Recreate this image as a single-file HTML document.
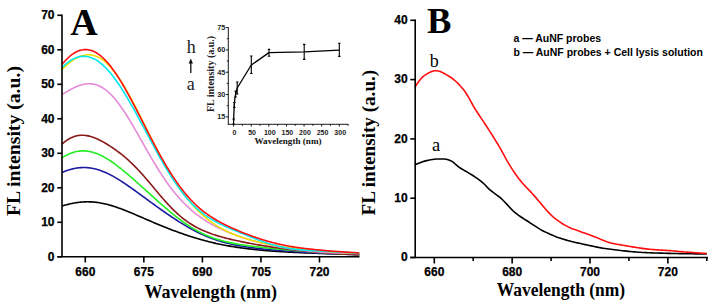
<!DOCTYPE html>
<html><head><meta charset="utf-8"><style>
html,body{margin:0;padding:0;background:#fff;width:717px;height:308px;overflow:hidden}
svg{display:block}
.s{font-family:"Liberation Sans",sans-serif;font-weight:bold;stroke:#000;stroke-width:0.25}
.t{font-family:"Liberation Serif",serif;font-weight:bold}
.r{font-family:"Liberation Serif",serif}
</style></head><body>
<svg width="717" height="308" viewBox="0 0 717 308">
<rect width="717" height="308" fill="#fff"/>

<path d="M61.88,206.05 L63.13,205.68 L64.37,205.33 L65.62,204.99 L66.86,204.67 L68.10,204.35 L69.35,204.06 L70.59,203.78 L71.84,203.51 L73.08,203.27 L74.33,203.04 L75.57,202.83 L76.81,202.63 L78.06,202.46 L79.30,202.31 L80.55,202.17 L81.79,202.06 L83.04,201.97 L84.28,201.90 L85.53,201.85 L86.77,201.82 L88.01,201.81 L89.26,201.83 L90.50,201.87 L91.75,201.92 L92.99,202.01 L94.24,202.11 L95.48,202.23 L96.72,202.38 L97.97,202.54 L99.21,202.73 L100.46,202.94 L101.70,203.17 L102.95,203.41 L104.19,203.68 L105.44,203.96 L106.68,204.27 L107.92,204.59 L109.17,204.92 L110.41,205.28 L111.66,205.64 L112.90,206.02 L114.15,206.42 L115.39,206.83 L116.64,207.25 L117.88,207.69 L119.12,208.13 L120.37,208.59 L121.61,209.05 L122.86,209.53 L124.10,210.01 L125.35,210.50 L126.59,211.00 L127.83,211.50 L129.08,212.01 L130.32,212.53 L131.57,213.05 L132.81,213.57 L134.06,214.10 L135.30,214.63 L136.55,215.16 L137.79,215.69 L139.03,216.23 L140.28,216.77 L141.52,217.30 L142.77,217.84 L144.01,218.38 L145.26,218.92 L146.50,219.46 L147.74,219.99 L148.99,220.53 L150.23,221.06 L151.48,221.59 L152.72,222.12 L153.97,222.65 L155.21,223.17 L156.46,223.70 L157.70,224.22 L158.94,224.73 L160.19,225.25 L161.43,225.76 L162.68,226.26 L163.92,226.77 L165.17,227.27 L166.41,227.76 L167.65,228.25 L168.90,228.74 L170.14,229.22 L171.39,229.70 L172.63,230.18 L173.88,230.65 L175.12,231.11 L176.37,231.57 L177.61,232.03 L178.85,232.48 L180.10,232.92 L181.34,233.37 L182.59,233.80 L183.83,234.23 L185.08,234.66 L186.32,235.08 L187.57,235.49 L188.81,235.90 L190.05,236.30 L191.30,236.70 L192.54,237.09 L193.79,237.48 L195.03,237.86 L196.28,238.23 L197.52,238.60 L198.76,238.96 L200.01,239.32 L201.25,239.67 L202.50,240.01 L203.74,240.35 L204.99,240.69 L206.23,241.01 L207.48,241.33 L208.72,241.65 L209.96,241.96 L211.21,242.26 L212.45,242.56 L213.70,242.85 L214.94,243.14 L216.19,243.42 L217.43,243.69 L218.67,243.96 L219.92,244.22 L221.16,244.48 L222.41,244.73 L223.65,244.98 L224.90,245.22 L226.14,245.46 L227.39,245.69 L228.63,245.91 L229.87,246.13 L231.12,246.35 L232.36,246.56 L233.61,246.76 L234.85,246.96 L236.10,247.15 L237.34,247.34 L238.59,247.53 L239.83,247.71 L241.07,247.89 L242.32,248.06 L243.56,248.23 L244.81,248.39 L246.05,248.55 L247.30,248.70 L248.54,248.86 L249.78,249.00 L251.03,249.15 L252.27,249.29 L253.52,249.42 L254.76,249.56 L256.01,249.69 L257.25,249.81 L258.50,249.93 L259.74,250.05 L260.98,250.17 L262.23,250.28 L263.47,250.39 L264.72,250.50 L265.96,250.61 L267.21,250.71 L268.45,250.81 L269.69,250.90 L270.94,251.00 L272.18,251.09 L273.43,251.18 L274.67,251.27 L275.92,251.35 L277.16,251.43 L278.41,251.51 L279.65,251.59 L280.89,251.67 L282.14,251.74 L283.38,251.82 L284.63,251.89 L285.87,251.96 L287.12,252.03 L288.36,252.09 L289.60,252.16 L290.85,252.22 L292.09,252.28 L293.34,252.34 L294.58,252.40 L295.83,252.46 L297.07,252.52 L298.32,252.57 L299.56,252.63 L300.80,252.68 L302.05,252.73 L303.29,252.78 L304.54,252.83 L305.78,252.88 L307.03,252.93 L308.27,252.98 L309.52,253.03 L310.76,253.07 L312.00,253.12 L313.25,253.16 L314.49,253.20 L315.74,253.25 L316.98,253.29 L318.23,253.33 L319.47,253.37 L320.71,253.41 L321.96,253.45 L323.20,253.49 L324.45,253.52 L325.69,253.56 L326.94,253.60 L328.18,253.64 L329.43,253.67 L330.67,253.71 L331.91,253.74 L333.16,253.78 L334.40,253.81 L335.65,253.84 L336.89,253.88 L338.14,253.91 L339.38,253.94 L340.62,253.97 L341.87,254.01 L343.11,254.04 L344.36,254.07 L345.60,254.10 L346.85,254.13 L348.09,254.16 L349.34,254.19 L350.58,254.22 L351.82,254.25 L353.07,254.27 L354.31,254.30 L355.56,254.33 L356.80,254.36 L358.05,254.39 L359.29,254.41" stroke="#000000" stroke-width="1.6" fill="none"/>
<path d="M61.88,172.57 L63.13,172.05 L64.37,171.54 L65.62,171.07 L66.86,170.62 L68.10,170.19 L69.35,169.80 L70.59,169.44 L71.84,169.10 L73.08,168.80 L74.33,168.53 L75.57,168.29 L76.81,168.08 L78.06,167.91 L79.30,167.77 L80.55,167.66 L81.79,167.59 L83.04,167.54 L84.28,167.54 L85.53,167.57 L86.77,167.63 L88.01,167.72 L89.26,167.85 L90.50,168.02 L91.75,168.21 L92.99,168.44 L94.24,168.71 L95.48,169.00 L96.72,169.33 L97.97,169.69 L99.21,170.08 L100.46,170.49 L101.70,170.94 L102.95,171.42 L104.19,171.93 L105.44,172.46 L106.68,173.02 L107.92,173.60 L109.17,174.21 L110.41,174.84 L111.66,175.50 L112.90,176.17 L114.15,176.87 L115.39,177.58 L116.64,178.32 L117.88,179.07 L119.12,179.84 L120.37,180.62 L121.61,181.42 L122.86,182.24 L124.10,183.06 L125.35,183.90 L126.59,184.74 L127.83,185.60 L129.08,186.47 L130.32,187.34 L131.57,188.22 L132.81,189.11 L134.06,190.00 L135.30,190.90 L136.55,191.80 L137.79,192.70 L139.03,193.61 L140.28,194.52 L141.52,195.43 L142.77,196.34 L144.01,197.25 L145.26,198.17 L146.50,199.08 L147.74,199.99 L148.99,200.90 L150.23,201.81 L151.48,202.72 L152.72,203.62 L153.97,204.52 L155.21,205.42 L156.46,206.32 L157.70,207.21 L158.94,208.10 L160.19,208.98 L161.43,209.86 L162.68,210.74 L163.92,211.61 L165.17,212.48 L166.41,213.34 L167.65,214.19 L168.90,215.04 L170.14,215.88 L171.39,216.72 L172.63,217.55 L173.88,218.37 L175.12,219.19 L176.37,220.00 L177.61,220.80 L178.85,221.59 L180.10,222.37 L181.34,223.14 L182.59,223.91 L183.83,224.66 L185.08,225.40 L186.32,226.14 L187.57,226.86 L188.81,227.57 L190.05,228.27 L191.30,228.96 L192.54,229.63 L193.79,230.30 L195.03,230.95 L196.28,231.59 L197.52,232.21 L198.76,232.82 L200.01,233.42 L201.25,234.01 L202.50,234.58 L203.74,235.14 L204.99,235.68 L206.23,236.21 L207.48,236.73 L208.72,237.23 L209.96,237.72 L211.21,238.20 L212.45,238.66 L213.70,239.11 L214.94,239.54 L216.19,239.97 L217.43,240.37 L218.67,240.77 L219.92,241.15 L221.16,241.53 L222.41,241.89 L223.65,242.23 L224.90,242.57 L226.14,242.90 L227.39,243.21 L228.63,243.52 L229.87,243.81 L231.12,244.09 L232.36,244.37 L233.61,244.64 L234.85,244.89 L236.10,245.14 L237.34,245.38 L238.59,245.61 L239.83,245.84 L241.07,246.06 L242.32,246.27 L243.56,246.47 L244.81,246.67 L246.05,246.86 L247.30,247.05 L248.54,247.23 L249.78,247.40 L251.03,247.57 L252.27,247.74 L253.52,247.90 L254.76,248.05 L256.01,248.21 L257.25,248.36 L258.50,248.50 L259.74,248.64 L260.98,248.78 L262.23,248.91 L263.47,249.05 L264.72,249.18 L265.96,249.30 L267.21,249.43 L268.45,249.55 L269.69,249.67 L270.94,249.78 L272.18,249.90 L273.43,250.01 L274.67,250.12 L275.92,250.23 L277.16,250.33 L278.41,250.44 L279.65,250.54 L280.89,250.64 L282.14,250.74 L283.38,250.84 L284.63,250.93 L285.87,251.03 L287.12,251.12 L288.36,251.21 L289.60,251.31 L290.85,251.39 L292.09,251.48 L293.34,251.57 L294.58,251.66 L295.83,251.74 L297.07,251.82 L298.32,251.91 L299.56,251.99 L300.80,252.07 L302.05,252.14 L303.29,252.22 L304.54,252.30 L305.78,252.37 L307.03,252.45 L308.27,252.52 L309.52,252.60 L310.76,252.67 L312.00,252.74 L313.25,252.81 L314.49,252.88 L315.74,252.94 L316.98,253.01 L318.23,253.08 L319.47,253.14 L320.71,253.20 L321.96,253.27 L323.20,253.33 L324.45,253.39 L325.69,253.45 L326.94,253.51 L328.18,253.57 L329.43,253.63 L330.67,253.68 L331.91,253.74 L333.16,253.80 L334.40,253.85 L335.65,253.91 L336.89,253.96 L338.14,254.01 L339.38,254.06 L340.62,254.11 L341.87,254.16 L343.11,254.21 L344.36,254.26 L345.60,254.31 L346.85,254.36 L348.09,254.40 L349.34,254.45 L350.58,254.49 L351.82,254.54 L353.07,254.58 L354.31,254.62 L355.56,254.66 L356.80,254.71 L358.05,254.75 L359.29,254.79" stroke="#1a1aa0" stroke-width="1.6" fill="none"/>
<path d="M61.88,157.87 L63.13,157.09 L64.37,156.35 L65.62,155.66 L66.86,155.01 L68.10,154.41 L69.35,153.85 L70.59,153.34 L71.84,152.88 L73.08,152.46 L74.33,152.10 L75.57,151.78 L76.81,151.51 L78.06,151.29 L79.30,151.12 L80.55,150.99 L81.79,150.92 L83.04,150.89 L84.28,150.91 L85.53,150.98 L86.77,151.09 L88.01,151.25 L89.26,151.45 L90.50,151.70 L91.75,152.00 L92.99,152.33 L94.24,152.71 L95.48,153.13 L96.72,153.59 L97.97,154.09 L99.21,154.62 L100.46,155.19 L101.70,155.80 L102.95,156.44 L104.19,157.12 L105.44,157.82 L106.68,158.56 L107.92,159.32 L109.17,160.11 L110.41,160.93 L111.66,161.77 L112.90,162.63 L114.15,163.52 L115.39,164.43 L116.64,165.36 L117.88,166.31 L119.12,167.27 L120.37,168.25 L121.61,169.25 L122.86,170.26 L124.10,171.28 L125.35,172.31 L126.59,173.36 L127.83,174.41 L129.08,175.48 L130.32,176.55 L131.57,177.63 L132.81,178.72 L134.06,179.81 L135.30,180.91 L136.55,182.02 L137.79,183.13 L139.03,184.24 L140.28,185.35 L141.52,186.47 L142.77,187.59 L144.01,188.72 L145.26,189.84 L146.50,190.96 L147.74,192.09 L148.99,193.21 L150.23,194.34 L151.48,195.46 L152.72,196.58 L153.97,197.70 L155.21,198.81 L156.46,199.93 L157.70,201.03 L158.94,202.14 L160.19,203.24 L161.43,204.33 L162.68,205.42 L163.92,206.50 L165.17,207.58 L166.41,208.64 L167.65,209.70 L168.90,210.75 L170.14,211.79 L171.39,212.82 L172.63,213.84 L173.88,214.84 L175.12,215.84 L176.37,216.82 L177.61,217.78 L178.85,218.74 L180.10,219.67 L181.34,220.59 L182.59,221.50 L183.83,222.39 L185.08,223.26 L186.32,224.12 L187.57,224.95 L188.81,225.77 L190.05,226.57 L191.30,227.36 L192.54,228.12 L193.79,228.86 L195.03,229.59 L196.28,230.29 L197.52,230.97 L198.76,231.64 L200.01,232.28 L201.25,232.91 L202.50,233.52 L203.74,234.10 L204.99,234.67 L206.23,235.22 L207.48,235.75 L208.72,236.27 L209.96,236.76 L211.21,237.24 L212.45,237.70 L213.70,238.14 L214.94,238.57 L216.19,238.98 L217.43,239.38 L218.67,239.76 L219.92,240.13 L221.16,240.48 L222.41,240.82 L223.65,241.15 L224.90,241.47 L226.14,241.77 L227.39,242.06 L228.63,242.35 L229.87,242.62 L231.12,242.88 L232.36,243.13 L233.61,243.38 L234.85,243.61 L236.10,243.84 L237.34,244.06 L238.59,244.27 L239.83,244.48 L241.07,244.68 L242.32,244.87 L243.56,245.06 L244.81,245.25 L246.05,245.42 L247.30,245.60 L248.54,245.77 L249.78,245.93 L251.03,246.10 L252.27,246.25 L253.52,246.41 L254.76,246.56 L256.01,246.71 L257.25,246.86 L258.50,247.00 L259.74,247.14 L260.98,247.28 L262.23,247.42 L263.47,247.55 L264.72,247.69 L265.96,247.82 L267.21,247.95 L268.45,248.08 L269.69,248.20 L270.94,248.33 L272.18,248.45 L273.43,248.58 L274.67,248.70 L275.92,248.82 L277.16,248.94 L278.41,249.06 L279.65,249.17 L280.89,249.29 L282.14,249.40 L283.38,249.52 L284.63,249.63 L285.87,249.74 L287.12,249.85 L288.36,249.97 L289.60,250.07 L290.85,250.18 L292.09,250.29 L293.34,250.40 L294.58,250.50 L295.83,250.61 L297.07,250.71 L298.32,250.82 L299.56,250.92 L300.80,251.02 L302.05,251.12 L303.29,251.22 L304.54,251.32 L305.78,251.42 L307.03,251.51 L308.27,251.61 L309.52,251.70 L310.76,251.80 L312.00,251.89 L313.25,251.98 L314.49,252.07 L315.74,252.16 L316.98,252.25 L318.23,252.34 L319.47,252.43 L320.71,252.51 L321.96,252.60 L323.20,252.68 L324.45,252.76 L325.69,252.85 L326.94,252.93 L328.18,253.01 L329.43,253.09 L330.67,253.16 L331.91,253.24 L333.16,253.32 L334.40,253.39 L335.65,253.46 L336.89,253.54 L338.14,253.61 L339.38,253.68 L340.62,253.75 L341.87,253.82 L343.11,253.88 L344.36,253.95 L345.60,254.02 L346.85,254.08 L348.09,254.14 L349.34,254.20 L350.58,254.27 L351.82,254.33 L353.07,254.38 L354.31,254.44 L355.56,254.50 L356.80,254.56 L358.05,254.61 L359.29,254.66" stroke="#22ee22" stroke-width="1.6" fill="none"/>
<path d="M61.88,144.09 L63.13,143.04 L64.37,142.04 L65.62,141.11 L66.86,140.25 L68.10,139.45 L69.35,138.72 L70.59,138.05 L71.84,137.46 L73.08,136.94 L74.33,136.49 L75.57,136.11 L76.81,135.79 L78.06,135.55 L79.30,135.37 L80.55,135.26 L81.79,135.21 L83.04,135.22 L84.28,135.30 L85.53,135.43 L86.77,135.61 L88.01,135.85 L89.26,136.14 L90.50,136.47 L91.75,136.85 L92.99,137.27 L94.24,137.73 L95.48,138.23 L96.72,138.76 L97.97,139.33 L99.21,139.92 L100.46,140.54 L101.70,141.19 L102.95,141.86 L104.19,142.56 L105.44,143.28 L106.68,144.02 L107.92,144.78 L109.17,145.56 L110.41,146.35 L111.66,147.17 L112.90,148.01 L114.15,148.87 L115.39,149.74 L116.64,150.64 L117.88,151.55 L119.12,152.49 L120.37,153.45 L121.61,154.43 L122.86,155.43 L124.10,156.46 L125.35,157.51 L126.59,158.59 L127.83,159.69 L129.08,160.82 L130.32,161.97 L131.57,163.15 L132.81,164.35 L134.06,165.59 L135.30,166.84 L136.55,168.12 L137.79,169.43 L139.03,170.76 L140.28,172.11 L141.52,173.48 L142.77,174.88 L144.01,176.29 L145.26,177.72 L146.50,179.16 L147.74,180.62 L148.99,182.08 L150.23,183.56 L151.48,185.04 L152.72,186.53 L153.97,188.02 L155.21,189.51 L156.46,191.00 L157.70,192.48 L158.94,193.95 L160.19,195.42 L161.43,196.87 L162.68,198.31 L163.92,199.73 L165.17,201.13 L166.41,202.52 L167.65,203.88 L168.90,205.22 L170.14,206.53 L171.39,207.82 L172.63,209.08 L173.88,210.31 L175.12,211.51 L176.37,212.68 L177.61,213.82 L178.85,214.93 L180.10,216.00 L181.34,217.05 L182.59,218.06 L183.83,219.04 L185.08,219.99 L186.32,220.91 L187.57,221.79 L188.81,222.65 L190.05,223.48 L191.30,224.27 L192.54,225.04 L193.79,225.78 L195.03,226.49 L196.28,227.18 L197.52,227.84 L198.76,228.48 L200.01,229.09 L201.25,229.69 L202.50,230.26 L203.74,230.80 L204.99,231.33 L206.23,231.85 L207.48,232.34 L208.72,232.82 L209.96,233.28 L211.21,233.72 L212.45,234.16 L213.70,234.57 L214.94,234.98 L216.19,235.37 L217.43,235.76 L218.67,236.13 L219.92,236.49 L221.16,236.85 L222.41,237.19 L223.65,237.53 L224.90,237.86 L226.14,238.18 L227.39,238.49 L228.63,238.80 L229.87,239.10 L231.12,239.40 L232.36,239.69 L233.61,239.98 L234.85,240.26 L236.10,240.54 L237.34,240.81 L238.59,241.08 L239.83,241.34 L241.07,241.60 L242.32,241.86 L243.56,242.11 L244.81,242.36 L246.05,242.61 L247.30,242.85 L248.54,243.09 L249.78,243.32 L251.03,243.56 L252.27,243.79 L253.52,244.02 L254.76,244.24 L256.01,244.46 L257.25,244.68 L258.50,244.90 L259.74,245.11 L260.98,245.32 L262.23,245.53 L263.47,245.73 L264.72,245.94 L265.96,246.14 L267.21,246.33 L268.45,246.53 L269.69,246.72 L270.94,246.91 L272.18,247.09 L273.43,247.28 L274.67,247.46 L275.92,247.64 L277.16,247.82 L278.41,247.99 L279.65,248.16 L280.89,248.33 L282.14,248.50 L283.38,248.66 L284.63,248.83 L285.87,248.99 L287.12,249.14 L288.36,249.30 L289.60,249.45 L290.85,249.60 L292.09,249.75 L293.34,249.89 L294.58,250.04 L295.83,250.18 L297.07,250.32 L298.32,250.45 L299.56,250.59 L300.80,250.72 L302.05,250.85 L303.29,250.98 L304.54,251.10 L305.78,251.23 L307.03,251.35 L308.27,251.47 L309.52,251.58 L310.76,251.70 L312.00,251.81 L313.25,251.92 L314.49,252.03 L315.74,252.14 L316.98,252.25 L318.23,252.35 L319.47,252.45 L320.71,252.55 L321.96,252.65 L323.20,252.74 L324.45,252.84 L325.69,252.93 L326.94,253.02 L328.18,253.11 L329.43,253.20 L330.67,253.28 L331.91,253.37 L333.16,253.45 L334.40,253.53 L335.65,253.61 L336.89,253.69 L338.14,253.76 L339.38,253.84 L340.62,253.91 L341.87,253.98 L343.11,254.05 L344.36,254.12 L345.60,254.19 L346.85,254.25 L348.09,254.32 L349.34,254.38 L350.58,254.44 L351.82,254.50 L353.07,254.56 L354.31,254.62 L355.56,254.67 L356.80,254.73 L358.05,254.78 L359.29,254.84" stroke="#8b1a1a" stroke-width="1.6" fill="none"/>
<path d="M61.88,94.62 L63.13,93.85 L64.37,93.10 L65.62,92.35 L66.86,91.62 L68.10,90.90 L69.35,90.20 L70.59,89.52 L71.84,88.87 L73.08,88.24 L74.33,87.64 L75.57,87.07 L76.81,86.54 L78.06,86.04 L79.30,85.59 L80.55,85.18 L81.79,84.82 L83.04,84.50 L84.28,84.24 L85.53,84.04 L86.77,83.89 L88.01,83.80 L89.26,83.77 L90.50,83.80 L91.75,83.90 L92.99,84.07 L94.24,84.31 L95.48,84.61 L96.72,84.99 L97.97,85.44 L99.21,85.97 L100.46,86.57 L101.70,87.24 L102.95,87.99 L104.19,88.81 L105.44,89.71 L106.68,90.68 L107.92,91.73 L109.17,92.85 L110.41,94.04 L111.66,95.30 L112.90,96.63 L114.15,98.03 L115.39,99.49 L116.64,101.02 L117.88,102.60 L119.12,104.25 L120.37,105.96 L121.61,107.72 L122.86,109.52 L124.10,111.38 L125.35,113.29 L126.59,115.23 L127.83,117.22 L129.08,119.24 L130.32,121.30 L131.57,123.38 L132.81,125.49 L134.06,127.63 L135.30,129.78 L136.55,131.95 L137.79,134.14 L139.03,136.33 L140.28,138.53 L141.52,140.74 L142.77,142.94 L144.01,145.15 L145.26,147.35 L146.50,149.54 L147.74,151.72 L148.99,153.89 L150.23,156.04 L151.48,158.18 L152.72,160.29 L153.97,162.38 L155.21,164.45 L156.46,166.50 L157.70,168.52 L158.94,170.50 L160.19,172.46 L161.43,174.39 L162.68,176.28 L163.92,178.14 L165.17,179.97 L166.41,181.76 L167.65,183.52 L168.90,185.24 L170.14,186.92 L171.39,188.57 L172.63,190.18 L173.88,191.75 L175.12,193.28 L176.37,194.78 L177.61,196.24 L178.85,197.67 L180.10,199.06 L181.34,200.41 L182.59,201.73 L183.83,203.02 L185.08,204.27 L186.32,205.48 L187.57,206.67 L188.81,207.82 L190.05,208.94 L191.30,210.03 L192.54,211.10 L193.79,212.13 L195.03,213.13 L196.28,214.11 L197.52,215.06 L198.76,215.98 L200.01,216.89 L201.25,217.76 L202.50,218.61 L203.74,219.44 L204.99,220.25 L206.23,221.04 L207.48,221.81 L208.72,222.56 L209.96,223.29 L211.21,224.00 L212.45,224.69 L213.70,225.37 L214.94,226.03 L216.19,226.68 L217.43,227.31 L218.67,227.92 L219.92,228.52 L221.16,229.11 L222.41,229.69 L223.65,230.25 L224.90,230.80 L226.14,231.34 L227.39,231.87 L228.63,232.39 L229.87,232.89 L231.12,233.39 L232.36,233.88 L233.61,234.35 L234.85,234.82 L236.10,235.28 L237.34,235.73 L238.59,236.17 L239.83,236.60 L241.07,237.03 L242.32,237.45 L243.56,237.85 L244.81,238.26 L246.05,238.65 L247.30,239.04 L248.54,239.42 L249.78,239.79 L251.03,240.16 L252.27,240.52 L253.52,240.87 L254.76,241.22 L256.01,241.56 L257.25,241.89 L258.50,242.22 L259.74,242.54 L260.98,242.86 L262.23,243.17 L263.47,243.47 L264.72,243.77 L265.96,244.06 L267.21,244.35 L268.45,244.63 L269.69,244.91 L270.94,245.18 L272.18,245.45 L273.43,245.71 L274.67,245.96 L275.92,246.21 L277.16,246.46 L278.41,246.70 L279.65,246.94 L280.89,247.17 L282.14,247.39 L283.38,247.61 L284.63,247.83 L285.87,248.04 L287.12,248.24 L288.36,248.45 L289.60,248.64 L290.85,248.83 L292.09,249.02 L293.34,249.20 L294.58,249.38 L295.83,249.56 L297.07,249.72 L298.32,249.89 L299.56,250.05 L300.80,250.20 L302.05,250.35 L303.29,250.50 L304.54,250.64 L305.78,250.78 L307.03,250.91 L308.27,251.04 L309.52,251.17 L310.76,251.29 L312.00,251.40 L313.25,251.51 L314.49,251.62 L315.74,251.72 L316.98,251.82 L318.23,251.92 L319.47,252.01 L320.71,252.10 L321.96,252.18 L323.20,252.26 L324.45,252.34 L325.69,252.41 L326.94,252.48 L328.18,252.55 L329.43,252.61 L330.67,252.68 L331.91,252.73 L333.16,252.79 L334.40,252.84 L335.65,252.89 L336.89,252.94 L338.14,252.99 L339.38,253.03 L340.62,253.08 L341.87,253.12 L343.11,253.16 L344.36,253.20 L345.60,253.23 L346.85,253.27 L348.09,253.31 L349.34,253.34 L350.58,253.38 L351.82,253.41 L353.07,253.45 L354.31,253.48 L355.56,253.52 L356.80,253.56 L358.05,253.59 L359.29,253.63" stroke="#e58ad8" stroke-width="1.6" fill="none"/>
<path d="M61.88,69.51 L63.13,68.32 L64.37,67.16 L65.62,66.04 L66.86,64.95 L68.10,63.91 L69.35,62.91 L70.59,61.96 L71.84,61.05 L73.08,60.20 L74.33,59.40 L75.57,58.65 L76.81,57.97 L78.06,57.34 L79.30,56.78 L80.55,56.28 L81.79,55.85 L83.04,55.48 L84.28,55.19 L85.53,54.97 L86.77,54.82 L88.01,54.75 L89.26,54.75 L90.50,54.83 L91.75,54.99 L92.99,55.23 L94.24,55.55 L95.48,55.94 L96.72,56.42 L97.97,56.98 L99.21,57.62 L100.46,58.35 L101.70,59.15 L102.95,60.03 L104.19,60.99 L105.44,62.04 L106.68,63.16 L107.92,64.35 L109.17,65.63 L110.41,66.97 L111.66,68.40 L112.90,69.89 L114.15,71.45 L115.39,73.08 L116.64,74.78 L117.88,76.54 L119.12,78.37 L120.37,80.25 L121.61,82.19 L122.86,84.18 L124.10,86.23 L125.35,88.33 L126.59,90.47 L127.83,92.66 L129.08,94.89 L130.32,97.15 L131.57,99.46 L132.81,101.79 L134.06,104.16 L135.30,106.55 L136.55,108.96 L137.79,111.40 L139.03,113.86 L140.28,116.33 L141.52,118.81 L142.77,121.30 L144.01,123.80 L145.26,126.30 L146.50,128.80 L147.74,131.30 L148.99,133.80 L150.23,136.29 L151.48,138.77 L152.72,141.24 L153.97,143.69 L155.21,146.13 L156.46,148.55 L157.70,150.95 L158.94,153.33 L160.19,155.69 L161.43,158.02 L162.68,160.32 L163.92,162.60 L165.17,164.84 L166.41,167.06 L167.65,169.24 L168.90,171.38 L170.14,173.50 L171.39,175.57 L172.63,177.61 L173.88,179.61 L175.12,181.58 L176.37,183.51 L177.61,185.39 L178.85,187.24 L180.10,189.05 L181.34,190.82 L182.59,192.55 L183.83,194.24 L185.08,195.89 L186.32,197.50 L187.57,199.07 L188.81,200.60 L190.05,202.10 L191.30,203.55 L192.54,204.97 L193.79,206.34 L195.03,207.68 L196.28,208.99 L197.52,210.25 L198.76,211.48 L200.01,212.68 L201.25,213.84 L202.50,214.97 L203.74,216.06 L204.99,217.12 L206.23,218.15 L207.48,219.15 L208.72,220.12 L209.96,221.06 L211.21,221.97 L212.45,222.86 L213.70,223.71 L214.94,224.54 L216.19,225.34 L217.43,226.12 L218.67,226.88 L219.92,227.61 L221.16,228.32 L222.41,229.00 L223.65,229.67 L224.90,230.32 L226.14,230.94 L227.39,231.55 L228.63,232.13 L229.87,232.70 L231.12,233.26 L232.36,233.79 L233.61,234.31 L234.85,234.82 L236.10,235.31 L237.34,235.78 L238.59,236.24 L239.83,236.69 L241.07,237.13 L242.32,237.55 L243.56,237.96 L244.81,238.36 L246.05,238.75 L247.30,239.13 L248.54,239.50 L249.78,239.86 L251.03,240.20 L252.27,240.54 L253.52,240.87 L254.76,241.20 L256.01,241.51 L257.25,241.82 L258.50,242.12 L259.74,242.41 L260.98,242.69 L262.23,242.97 L263.47,243.24 L264.72,243.50 L265.96,243.76 L267.21,244.01 L268.45,244.26 L269.69,244.50 L270.94,244.74 L272.18,244.97 L273.43,245.19 L274.67,245.41 L275.92,245.62 L277.16,245.83 L278.41,246.04 L279.65,246.24 L280.89,246.44 L282.14,246.63 L283.38,246.82 L284.63,247.00 L285.87,247.18 L287.12,247.36 L288.36,247.53 L289.60,247.70 L290.85,247.87 L292.09,248.03 L293.34,248.19 L294.58,248.35 L295.83,248.50 L297.07,248.65 L298.32,248.80 L299.56,248.94 L300.80,249.08 L302.05,249.22 L303.29,249.35 L304.54,249.49 L305.78,249.62 L307.03,249.74 L308.27,249.87 L309.52,249.99 L310.76,250.11 L312.00,250.22 L313.25,250.34 L314.49,250.45 L315.74,250.56 L316.98,250.67 L318.23,250.78 L319.47,250.88 L320.71,250.98 L321.96,251.08 L323.20,251.18 L324.45,251.27 L325.69,251.37 L326.94,251.46 L328.18,251.55 L329.43,251.64 L330.67,251.72 L331.91,251.81 L333.16,251.89 L334.40,251.97 L335.65,252.05 L336.89,252.13 L338.14,252.20 L339.38,252.28 L340.62,252.35 L341.87,252.42 L343.11,252.49 L344.36,252.56 L345.60,252.63 L346.85,252.70 L348.09,252.76 L349.34,252.83 L350.58,252.89 L351.82,252.95 L353.07,253.01 L354.31,253.07 L355.56,253.13 L356.80,253.18 L358.05,253.24 L359.29,253.29" stroke="#f0e000" stroke-width="1.6" fill="none"/>
<path d="M61.88,67.77 L63.13,66.54 L64.37,65.37 L65.62,64.27 L66.86,63.24 L68.10,62.27 L69.35,61.38 L70.59,60.55 L71.84,59.80 L73.08,59.12 L74.33,58.51 L75.57,57.97 L76.81,57.51 L78.06,57.13 L79.30,56.81 L80.55,56.58 L81.79,56.42 L83.04,56.34 L84.28,56.33 L85.53,56.40 L86.77,56.54 L88.01,56.77 L89.26,57.06 L90.50,57.43 L91.75,57.88 L92.99,58.40 L94.24,59.00 L95.48,59.66 L96.72,60.40 L97.97,61.22 L99.21,62.10 L100.46,63.05 L101.70,64.07 L102.95,65.16 L104.19,66.31 L105.44,67.53 L106.68,68.81 L107.92,70.16 L109.17,71.56 L110.41,73.03 L111.66,74.55 L112.90,76.13 L114.15,77.76 L115.39,79.44 L116.64,81.18 L117.88,82.96 L119.12,84.79 L120.37,86.67 L121.61,88.59 L122.86,90.55 L124.10,92.54 L125.35,94.58 L126.59,96.65 L127.83,98.75 L129.08,100.89 L130.32,103.05 L131.57,105.24 L132.81,107.45 L134.06,109.69 L135.30,111.95 L136.55,114.22 L137.79,116.51 L139.03,118.81 L140.28,121.13 L141.52,123.45 L142.77,125.78 L144.01,128.12 L145.26,130.46 L146.50,132.80 L147.74,135.14 L148.99,137.47 L150.23,139.80 L151.48,142.13 L152.72,144.44 L153.97,146.74 L155.21,149.04 L156.46,151.31 L157.70,153.57 L158.94,155.81 L160.19,158.03 L161.43,160.23 L162.68,162.40 L163.92,164.55 L165.17,166.67 L166.41,168.77 L167.65,170.83 L168.90,172.86 L170.14,174.86 L171.39,176.83 L172.63,178.76 L173.88,180.66 L175.12,182.52 L176.37,184.34 L177.61,186.13 L178.85,187.87 L180.10,189.58 L181.34,191.24 L182.59,192.86 L183.83,194.44 L185.08,195.98 L186.32,197.48 L187.57,198.93 L188.81,200.34 L190.05,201.71 L191.30,203.04 L192.54,204.33 L193.79,205.58 L195.03,206.78 L196.28,207.95 L197.52,209.07 L198.76,210.16 L200.01,211.21 L201.25,212.22 L202.50,213.20 L203.74,214.14 L204.99,215.05 L206.23,215.93 L207.48,216.77 L208.72,217.59 L209.96,218.38 L211.21,219.14 L212.45,219.88 L213.70,220.59 L214.94,221.28 L216.19,221.96 L217.43,222.61 L218.67,223.24 L219.92,223.86 L221.16,224.46 L222.41,225.05 L223.65,225.63 L224.90,226.20 L226.14,226.76 L227.39,227.30 L228.63,227.85 L229.87,228.38 L231.12,228.91 L232.36,229.44 L233.61,229.96 L234.85,230.48 L236.10,231.00 L237.34,231.51 L238.59,232.02 L239.83,232.53 L241.07,233.04 L242.32,233.55 L243.56,234.06 L244.81,234.56 L246.05,235.07 L247.30,235.57 L248.54,236.07 L249.78,236.57 L251.03,237.06 L252.27,237.56 L253.52,238.05 L254.76,238.53 L256.01,239.01 L257.25,239.48 L258.50,239.95 L259.74,240.41 L260.98,240.87 L262.23,241.32 L263.47,241.75 L264.72,242.18 L265.96,242.61 L267.21,243.02 L268.45,243.42 L269.69,243.81 L270.94,244.19 L272.18,244.55 L273.43,244.91 L274.67,245.25 L275.92,245.58 L277.16,245.90 L278.41,246.21 L279.65,246.50 L280.89,246.78 L282.14,247.05 L283.38,247.31 L284.63,247.56 L285.87,247.79 L287.12,248.01 L288.36,248.22 L289.60,248.42 L290.85,248.61 L292.09,248.78 L293.34,248.95 L294.58,249.11 L295.83,249.26 L297.07,249.40 L298.32,249.53 L299.56,249.66 L300.80,249.77 L302.05,249.88 L303.29,249.99 L304.54,250.09 L305.78,250.18 L307.03,250.27 L308.27,250.35 L309.52,250.43 L310.76,250.51 L312.00,250.58 L313.25,250.65 L314.49,250.72 L315.74,250.78 L316.98,250.85 L318.23,250.91 L319.47,250.97 L320.71,251.04 L321.96,251.10 L323.20,251.16 L324.45,251.22 L325.69,251.28 L326.94,251.34 L328.18,251.40 L329.43,251.47 L330.67,251.53 L331.91,251.59 L333.16,251.66 L334.40,251.73 L335.65,251.80 L336.89,251.86 L338.14,251.93 L339.38,252.01 L340.62,252.08 L341.87,252.15 L343.11,252.23 L344.36,252.30 L345.60,252.38 L346.85,252.46 L348.09,252.54 L349.34,252.62 L350.58,252.70 L351.82,252.78 L353.07,252.87 L354.31,252.95 L355.56,253.03 L356.80,253.12 L358.05,253.20 L359.29,253.29" stroke="#00e8f0" stroke-width="1.6" fill="none"/>
<path d="M61.88,64.56 L63.13,63.08 L64.37,61.67 L65.62,60.32 L66.86,59.05 L68.10,57.85 L69.35,56.73 L70.59,55.68 L71.84,54.72 L73.08,53.83 L74.33,53.02 L75.57,52.29 L76.81,51.65 L78.06,51.09 L79.30,50.62 L80.55,50.23 L81.79,49.93 L83.04,49.71 L84.28,49.58 L85.53,49.54 L86.77,49.58 L88.01,49.71 L89.26,49.93 L90.50,50.23 L91.75,50.62 L92.99,51.09 L94.24,51.65 L95.48,52.29 L96.72,53.02 L97.97,53.82 L99.21,54.71 L100.46,55.68 L101.70,56.73 L102.95,57.85 L104.19,59.05 L105.44,60.32 L106.68,61.66 L107.92,63.08 L109.17,64.56 L110.41,66.11 L111.66,67.72 L112.90,69.40 L114.15,71.14 L115.39,72.93 L116.64,74.78 L117.88,76.68 L119.12,78.64 L120.37,80.64 L121.61,82.69 L122.86,84.78 L124.10,86.92 L125.35,89.09 L126.59,91.30 L127.83,93.54 L129.08,95.81 L130.32,98.11 L131.57,100.44 L132.81,102.78 L134.06,105.15 L135.30,107.54 L136.55,109.94 L137.79,112.35 L139.03,114.78 L140.28,117.21 L141.52,119.65 L142.77,122.09 L144.01,124.53 L145.26,126.97 L146.50,129.40 L147.74,131.83 L148.99,134.25 L150.23,136.65 L151.48,139.05 L152.72,141.43 L153.97,143.79 L155.21,146.14 L156.46,148.46 L157.70,150.76 L158.94,153.04 L160.19,155.29 L161.43,157.52 L162.68,159.71 L163.92,161.88 L165.17,164.01 L166.41,166.12 L167.65,168.19 L168.90,170.22 L170.14,172.22 L171.39,174.18 L172.63,176.11 L173.88,178.00 L175.12,179.84 L176.37,181.65 L177.61,183.42 L178.85,185.15 L180.10,186.85 L181.34,188.50 L182.59,190.11 L183.83,191.67 L185.08,193.20 L186.32,194.69 L187.57,196.14 L188.81,197.55 L190.05,198.92 L191.30,200.25 L192.54,201.55 L193.79,202.80 L195.03,204.02 L196.28,205.21 L197.52,206.35 L198.76,207.47 L200.01,208.55 L201.25,209.59 L202.50,210.61 L203.74,211.59 L204.99,212.55 L206.23,213.47 L207.48,214.37 L208.72,215.24 L209.96,216.09 L211.21,216.91 L212.45,217.71 L213.70,218.49 L214.94,219.25 L216.19,219.98 L217.43,220.70 L218.67,221.40 L219.92,222.08 L221.16,222.75 L222.41,223.41 L223.65,224.04 L224.90,224.67 L226.14,225.28 L227.39,225.89 L228.63,226.48 L229.87,227.06 L231.12,227.63 L232.36,228.19 L233.61,228.74 L234.85,229.29 L236.10,229.83 L237.34,230.36 L238.59,230.88 L239.83,231.40 L241.07,231.91 L242.32,232.41 L243.56,232.90 L244.81,233.39 L246.05,233.88 L247.30,234.35 L248.54,234.83 L249.78,235.29 L251.03,235.75 L252.27,236.20 L253.52,236.64 L254.76,237.08 L256.01,237.51 L257.25,237.94 L258.50,238.35 L259.74,238.76 L260.98,239.16 L262.23,239.56 L263.47,239.94 L264.72,240.32 L265.96,240.69 L267.21,241.05 L268.45,241.41 L269.69,241.75 L270.94,242.09 L272.18,242.42 L273.43,242.74 L274.67,243.06 L275.92,243.36 L277.16,243.66 L278.41,243.95 L279.65,244.23 L280.89,244.50 L282.14,244.77 L283.38,245.03 L284.63,245.28 L285.87,245.52 L287.12,245.76 L288.36,245.99 L289.60,246.21 L290.85,246.43 L292.09,246.64 L293.34,246.84 L294.58,247.04 L295.83,247.23 L297.07,247.42 L298.32,247.60 L299.56,247.77 L300.80,247.95 L302.05,248.11 L303.29,248.27 L304.54,248.43 L305.78,248.58 L307.03,248.73 L308.27,248.88 L309.52,249.02 L310.76,249.16 L312.00,249.29 L313.25,249.42 L314.49,249.55 L315.74,249.68 L316.98,249.80 L318.23,249.92 L319.47,250.04 L320.71,250.16 L321.96,250.27 L323.20,250.38 L324.45,250.49 L325.69,250.60 L326.94,250.70 L328.18,250.81 L329.43,250.91 L330.67,251.01 L331.91,251.11 L333.16,251.20 L334.40,251.30 L335.65,251.39 L336.89,251.48 L338.14,251.57 L339.38,251.66 L340.62,251.75 L341.87,251.84 L343.11,251.92 L344.36,252.01 L345.60,252.09 L346.85,252.17 L348.09,252.26 L349.34,252.34 L350.58,252.41 L351.82,252.49 L353.07,252.57 L354.31,252.64 L355.56,252.72 L356.80,252.79 L358.05,252.86 L359.29,252.93" stroke="#ff1010" stroke-width="1.6" fill="none"/>
<g stroke="#000" stroke-width="1.6" fill="none">
<path d="M62,14.5 V257.6 M57.3,256.8 H359.5"/>
<path d="M57.3,256.80 H62"/>
<path d="M57.3,222.30 H62"/>
<path d="M57.3,187.80 H62"/>
<path d="M57.3,153.30 H62"/>
<path d="M57.3,118.80 H62"/>
<path d="M57.3,84.30 H62"/>
<path d="M57.3,49.80 H62"/>
<path d="M57.3,15.30 H62"/>
<path d="M85.30,256.8 V262.5"/>
<path d="M143.84,256.8 V262.5"/>
<path d="M202.39,256.8 V262.5"/>
<path d="M260.94,256.8 V262.5"/>
<path d="M319.48,256.8 V262.5"/>
</g>
<text class="s" x="54.5" y="260.50" font-size="12" text-anchor="end">0</text>
<text class="s" x="54.5" y="226.00" font-size="12" text-anchor="end">10</text>
<text class="s" x="54.5" y="191.50" font-size="12" text-anchor="end">20</text>
<text class="s" x="54.5" y="157.00" font-size="12" text-anchor="end">30</text>
<text class="s" x="54.5" y="122.50" font-size="12" text-anchor="end">40</text>
<text class="s" x="54.5" y="88.00" font-size="12" text-anchor="end">50</text>
<text class="s" x="54.5" y="53.50" font-size="12" text-anchor="end">60</text>
<text class="s" x="54.5" y="19.00" font-size="12" text-anchor="end">70</text>
<text class="s" x="85.30" y="275.6" font-size="12" text-anchor="middle">660</text>
<text class="s" x="143.84" y="275.6" font-size="12" text-anchor="middle">675</text>
<text class="s" x="202.39" y="275.6" font-size="12" text-anchor="middle">690</text>
<text class="s" x="260.94" y="275.6" font-size="12" text-anchor="middle">705</text>
<text class="s" x="319.48" y="275.6" font-size="12" text-anchor="middle">720</text>
<text class="t" x="144.5" y="297.5" font-size="19" textLength="132.5" lengthAdjust="spacingAndGlyphs">Wavelength (nm)</text>
<text class="t" transform="translate(20.0,216) rotate(-90)" x="0" y="0" font-size="19" textLength="150" lengthAdjust="spacingAndGlyphs">FL intensity (a.u.)</text>
<text class="t" x="70.3" y="34.5" font-size="38">A</text>
<g stroke="#000" stroke-width="0.9" fill="none">
<path d="M228.3,27.3 V124.7 M227.9,124.3 H348.4"/>
<path d="M225.8,116.86 H228.3"/>
<path d="M225.8,94.54 H228.3"/>
<path d="M225.8,72.22 H228.3"/>
<path d="M225.8,49.90 H228.3"/>
<path d="M225.8,27.58 H228.3"/>
<path d="M226.8,105.70 H228.3"/>
<path d="M226.8,83.38 H228.3"/>
<path d="M226.8,61.06 H228.3"/>
<path d="M226.8,38.74 H228.3"/>
<path d="M233.60,124.3 V126.6"/>
<path d="M242.41,124.3 V125.8"/>
<path d="M251.22,124.3 V126.6"/>
<path d="M260.02,124.3 V125.8"/>
<path d="M268.83,124.3 V126.6"/>
<path d="M277.64,124.3 V125.8"/>
<path d="M286.44,124.3 V126.6"/>
<path d="M295.25,124.3 V125.8"/>
<path d="M304.06,124.3 V126.6"/>
<path d="M312.87,124.3 V125.8"/>
<path d="M321.68,124.3 V126.6"/>
<path d="M330.48,124.3 V125.8"/>
<path d="M339.29,124.3 V126.6"/>
<path d="M348.10,124.3 V125.8"/>
</g>
<text class="s" style="stroke:none" fill="#222" x="225.3" y="119.26" font-size="7.3" text-anchor="end">15</text>
<text class="s" style="stroke:none" fill="#222" x="225.3" y="96.94" font-size="7.3" text-anchor="end">30</text>
<text class="s" style="stroke:none" fill="#222" x="225.3" y="74.62" font-size="7.3" text-anchor="end">45</text>
<text class="s" style="stroke:none" fill="#222" x="225.3" y="52.30" font-size="7.3" text-anchor="end">60</text>
<text class="s" style="stroke:none" fill="#222" x="225.3" y="29.98" font-size="7.3" text-anchor="end">75</text>
<text class="s" style="stroke:none" fill="#222" x="234.50" y="134.6" font-size="7" text-anchor="middle">0</text>
<text class="s" style="stroke:none" fill="#222" x="252.12" y="134.6" font-size="7" text-anchor="middle">50</text>
<text class="s" style="stroke:none" fill="#222" x="269.73" y="134.6" font-size="7" text-anchor="middle">100</text>
<text class="s" style="stroke:none" fill="#222" x="287.34" y="134.6" font-size="7" text-anchor="middle">150</text>
<text class="s" style="stroke:none" fill="#222" x="304.96" y="134.6" font-size="7" text-anchor="middle">200</text>
<text class="s" style="stroke:none" fill="#222" x="322.57" y="134.6" font-size="7" text-anchor="middle">250</text>
<text class="s" style="stroke:none" fill="#222" x="340.19" y="134.6" font-size="7" text-anchor="middle">300</text>
<text class="t" fill="#111" x="254.5" y="143.5" font-size="8.8" textLength="67" lengthAdjust="spacingAndGlyphs">Wavelength (nm)</text>
<text class="t" fill="#222" transform="translate(213.5,112) rotate(-90)" font-size="9.6" textLength="76.2" lengthAdjust="spacingAndGlyphs">FL intensity (a.u.)</text>
<path d="M233.60,121.50 L233.90,113.00 L234.30,105.00 L234.90,98.00 L235.60,94.00 L236.60,90.50 L237.20,88.00 L251.30,65.00 L269.00,52.60 L304.20,51.90 L339.30,50.10" stroke="#000" stroke-width="1.3" fill="none" stroke-linejoin="round"/>
<g stroke="#000" stroke-width="1.1" fill="none">
<path d="M233.6,119.0 V124.0 M232.4,119.0 H234.79999999999998 M232.4,124.0 H234.79999999999998"/>
<path d="M234.3,102.5 V107.5 M233.10000000000002,102.5 H235.5 M233.10000000000002,107.5 H235.5"/>
<path d="M235.6,91 V97 M234.4,91 H236.79999999999998 M234.4,97 H236.79999999999998"/>
<path d="M237.2,82 V94 M236.0,82 H238.39999999999998 M236.0,94 H238.39999999999998"/>
<path d="M251.3,56.05 V73.55 M250.10000000000002,56.05 H252.5 M250.10000000000002,73.55 H252.5"/>
<path d="M269,49.4 V56.199999999999996 M267.8,49.4 H270.2 M267.8,56.199999999999996 H270.2"/>
<path d="M304.2,44.4 V59.4 M303.0,44.4 H305.4 M303.0,59.4 H305.4"/>
<path d="M339.3,43.199999999999996 V56.4 M338.1,43.199999999999996 H340.5 M338.1,56.4 H340.5"/>
</g>
<text class="r" fill="#222" x="186.7" y="52.7" font-size="18">h</text>
<text class="r" fill="#222" x="186.7" y="89.5" font-size="18">a</text>
<path d="M190.8,73 V62" stroke="#111" stroke-width="1.3"/><path d="M188.6,63.6 L190.8,58.6 L193,63.6 Z" fill="#111"/>
<path d="M414.84,164.99 L416.79,164.06 L418.75,163.18 L420.71,162.39 L422.67,161.69 L424.63,161.11 L426.59,160.65 L428.55,160.21 L430.51,159.80 L432.47,159.45 L434.43,159.20 L436.39,159.07 L438.35,159.06 L440.31,159.06 L442.27,159.06 L444.23,159.06 L446.19,159.19 L448.15,159.70 L450.11,160.45 L452.07,161.38 L454.03,162.90 L455.99,164.72 L457.95,166.41 L459.90,167.75 L461.86,168.95 L463.82,170.10 L465.78,171.25 L467.74,172.43 L469.70,173.59 L471.66,174.77 L473.62,176.01 L475.58,177.31 L477.54,178.65 L479.50,180.07 L481.46,181.59 L483.42,183.30 L485.38,185.28 L487.34,187.35 L489.30,189.29 L491.26,190.97 L493.22,192.47 L495.18,193.88 L497.14,195.28 L499.10,196.75 L501.06,198.36 L503.02,200.20 L504.97,202.23 L506.93,204.36 L508.89,206.51 L510.85,208.62 L512.81,210.58 L514.77,212.34 L516.73,213.89 L518.69,215.35 L520.65,216.72 L522.61,218.03 L524.57,219.30 L526.53,220.54 L528.49,221.79 L530.45,223.06 L532.41,224.35 L534.37,225.65 L536.33,226.94 L538.29,228.18 L540.25,229.36 L542.21,230.45 L544.17,231.44 L546.13,232.40 L548.09,233.33 L550.04,234.22 L552.00,235.07 L553.96,235.88 L555.92,236.66 L557.88,237.39 L559.84,238.07 L561.80,238.71 L563.76,239.32 L565.72,239.89 L567.68,240.44 L569.64,240.97 L571.60,241.47 L573.56,241.96 L575.52,242.42 L577.48,242.88 L579.44,243.32 L581.40,243.76 L583.36,244.20 L585.32,244.63 L587.28,245.06 L589.24,245.48 L591.20,245.90 L593.16,246.32 L595.11,246.72 L597.07,247.11 L599.03,247.48 L600.99,247.84 L602.95,248.18 L604.91,248.50 L606.87,248.79 L608.83,249.06 L610.79,249.31 L612.75,249.55 L614.71,249.79 L616.67,250.03 L618.63,250.26 L620.59,250.49 L622.55,250.71 L624.51,250.92 L626.47,251.13 L628.43,251.33 L630.39,251.52 L632.35,251.70 L634.31,251.87 L636.27,252.03 L638.23,252.18 L640.18,252.32 L642.14,252.45 L644.10,252.56 L646.06,252.66 L648.02,252.74 L649.98,252.82 L651.94,252.88 L653.90,252.94 L655.86,253.00 L657.82,253.06 L659.78,253.12 L661.74,253.17 L663.70,253.23 L665.66,253.28 L667.62,253.33 L669.58,253.38 L671.54,253.43 L673.50,253.47 L675.46,253.52 L677.42,253.56 L679.38,253.60 L681.34,253.64 L683.30,253.67 L685.25,253.70 L687.21,253.73 L689.17,253.76 L691.13,253.79 L693.09,253.81 L695.05,253.83 L697.01,253.84 L698.97,253.86 L700.93,253.87 L702.89,253.88 L704.85,253.88 L706.81,253.88" stroke="#000" stroke-width="1.6" fill="none"/>
<path d="M414.84,87.31 L416.79,84.27 L418.75,81.46 L420.71,78.98 L422.67,76.93 L424.63,75.41 L426.59,74.18 L428.55,73.04 L430.51,72.05 L432.47,71.28 L434.43,70.81 L436.39,70.72 L438.35,71.00 L440.31,71.59 L442.27,72.42 L444.23,73.44 L446.19,74.57 L448.15,75.77 L450.11,76.95 L452.07,78.27 L454.03,79.79 L455.99,81.51 L457.95,83.41 L459.90,85.48 L461.86,87.69 L463.82,90.03 L465.78,92.78 L467.74,95.98 L469.70,99.45 L471.66,103.01 L473.62,106.49 L475.58,109.71 L477.54,112.76 L479.50,115.73 L481.46,118.66 L483.42,121.59 L485.38,124.53 L487.34,127.52 L489.30,130.57 L491.26,133.64 L493.22,136.73 L495.18,139.85 L497.14,143.04 L499.10,146.30 L501.06,149.69 L503.02,153.28 L504.97,156.94 L506.93,160.54 L508.89,163.93 L510.85,167.06 L512.81,170.08 L514.77,172.98 L516.73,175.75 L518.69,178.39 L520.65,180.87 L522.61,183.20 L524.57,185.40 L526.53,187.52 L528.49,189.59 L530.45,191.65 L532.41,193.73 L534.37,195.88 L536.33,198.13 L538.29,200.44 L540.25,202.78 L542.21,205.13 L544.17,207.45 L546.13,209.71 L548.09,211.88 L550.04,213.92 L552.00,215.81 L553.96,217.52 L555.92,219.06 L557.88,220.53 L559.84,221.92 L561.80,223.22 L563.76,224.44 L565.72,225.57 L567.68,226.61 L569.64,227.55 L571.60,228.39 L573.56,229.15 L575.52,229.86 L577.48,230.54 L579.44,231.24 L581.40,231.95 L583.36,232.65 L585.32,233.34 L587.28,234.03 L589.24,234.72 L591.20,235.43 L593.16,236.16 L595.11,236.94 L597.07,237.77 L599.03,238.62 L600.99,239.47 L602.95,240.29 L604.91,241.07 L606.87,241.77 L608.83,242.39 L610.79,242.90 L612.75,243.37 L614.71,243.79 L616.67,244.19 L618.63,244.56 L620.59,244.91 L622.55,245.25 L624.51,245.57 L626.47,245.89 L628.43,246.20 L630.39,246.52 L632.35,246.84 L634.31,247.16 L636.27,247.48 L638.23,247.79 L640.18,248.09 L642.14,248.38 L644.10,248.65 L646.06,248.90 L648.02,249.12 L649.98,249.32 L651.94,249.49 L653.90,249.64 L655.86,249.78 L657.82,249.91 L659.78,250.04 L661.74,250.16 L663.70,250.28 L665.66,250.40 L667.62,250.52 L669.58,250.66 L671.54,250.81 L673.50,250.96 L675.46,251.12 L677.42,251.28 L679.38,251.44 L681.34,251.61 L683.30,251.77 L685.25,251.93 L687.21,252.09 L689.17,252.24 L691.13,252.39 L693.09,252.54 L695.05,252.69 L697.01,252.83 L698.97,252.97 L700.93,253.11 L702.89,253.25 L704.85,253.39 L706.81,253.53" stroke="#ff1010" stroke-width="1.6" fill="none"/>
<g stroke="#000" stroke-width="1.6" fill="none">
<path d="M415.2,19.5 V258.3 M410.3,257.5 H708"/>
<path d="M410.3,257.50 H415.2"/>
<path d="M410.3,198.20 H415.2"/>
<path d="M410.3,138.90 H415.2"/>
<path d="M410.3,79.60 H415.2"/>
<path d="M410.3,20.30 H415.2"/>
<path d="M434.30,257.5 V263.5"/>
<path d="M473.23,257.5 V261"/>
<path d="M512.16,257.5 V263.5"/>
<path d="M551.09,257.5 V261"/>
<path d="M590.02,257.5 V263.5"/>
<path d="M628.95,257.5 V261"/>
<path d="M667.88,257.5 V263.5"/>
<path d="M706.81,257.5 V261"/>
</g>
<text class="s" x="407.6" y="261.10" font-size="12" text-anchor="end">0</text>
<text class="s" x="407.6" y="201.80" font-size="12" text-anchor="end">10</text>
<text class="s" x="407.6" y="142.50" font-size="12" text-anchor="end">20</text>
<text class="s" x="407.6" y="83.20" font-size="12" text-anchor="end">30</text>
<text class="s" x="407.6" y="23.90" font-size="12" text-anchor="end">40</text>
<text class="s" x="434.30" y="275.6" font-size="12" text-anchor="middle">660</text>
<text class="s" x="512.16" y="275.6" font-size="12" text-anchor="middle">680</text>
<text class="s" x="590.02" y="275.6" font-size="12" text-anchor="middle">700</text>
<text class="s" x="667.88" y="275.6" font-size="12" text-anchor="middle">720</text>
<text class="t" x="496.7" y="295.7" font-size="19" textLength="128.5" lengthAdjust="spacingAndGlyphs">Wavelength (nm)</text>
<text class="t" transform="translate(375,215.4) rotate(-90)" font-size="18.5" textLength="145.6" lengthAdjust="spacingAndGlyphs">FL intensity (a.u.)</text>
<text class="t" x="427" y="33.4" font-size="36.5">B</text>
<text class="r" x="429.8" y="67.2" font-size="18">b</text>
<text class="r" x="432" y="150.6" font-size="18.5">a</text>
<text class="s" style="stroke:none" x="513.4" y="41.9" font-size="10.5">a — AuNF probes</text>
<text class="s" style="stroke:none" x="513.4" y="56.3" font-size="10.5">b — AuNF probes + Cell lysis solution</text>
</svg></body></html>
